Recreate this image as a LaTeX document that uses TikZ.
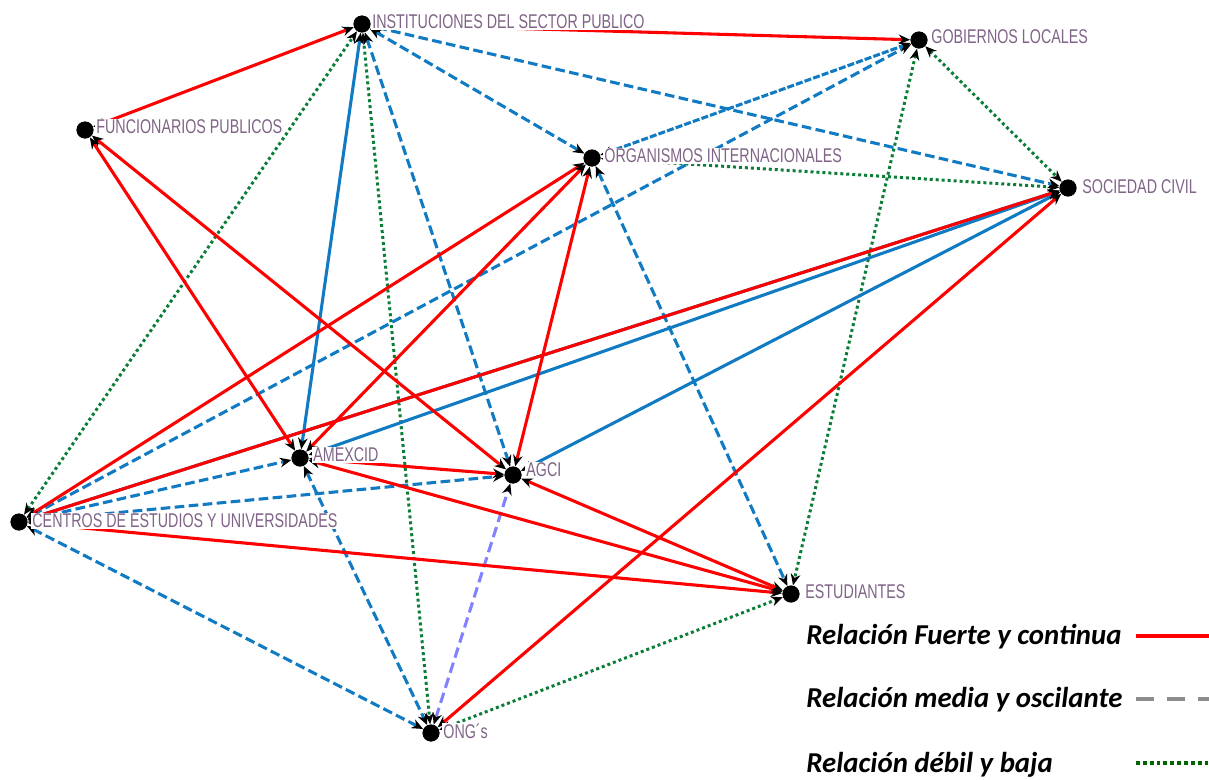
\documentclass[tikz,border=0pt]{standalone}
\usepackage{fontspec}
\usepackage{graphicx}
\setmainfont{Liberation Sans}
\newfontfamily\legfont{Carlito}
\usetikzlibrary{arrows.meta}
\definecolor{redc}{RGB}{255,0,0}
\definecolor{bluec}{RGB}{16,122,194}
\definecolor{greenc}{RGB}{10,125,55}
\definecolor{lavc}{RGB}{130,130,255}
\definecolor{lblc}{RGB}{128,100,135}
\definecolor{grayc}{RGB}{140,140,140}
\definecolor{dgreen}{RGB}{0,100,0}
\tikzset{
  dot/.style={circle,fill=black,minimum size=0.34cm,inner sep=0pt},
  tips/.style={arrows={{Stealth[length=6.5pt,width=5.5pt,color=black]}-{Stealth[length=6.5pt,width=5.5pt,color=black]}}},
  strong/.style={tips,draw=redc,line width=1.75pt},
  midd/.style={tips,draw=bluec,line width=1.75pt,dash pattern=on 5.5pt off 2.5pt},
  middense/.style={tips,draw=bluec,line width=1.75pt,dash pattern=on 4pt off 1.2pt},
  bluesolid/.style={tips,draw=bluec,line width=1.75pt},
  weak/.style={tips,draw=greenc,line width=1.7pt,dash pattern=on 1.7pt off 1.7pt},
  lav/.style={tips,draw=lavc,line width=1.75pt,dash pattern=on 6pt off 3pt},
  lbl/.style={anchor=west,fill=white,inner sep=0.6pt,text=lblc,font=\fontsize{11.3}{13}\selectfont},
  leg/.style={anchor=base west,inner sep=0pt,font=\legfont\bfseries\itshape\fontsize{16.4}{19}\selectfont}
}
\newcommand{\nx}[1]{\scalebox{0.72}[1]{#1}}
\begin{document}
\begin{tikzpicture}[x=0.02cm,y=-0.02cm]
\useasboundingbox (0,0) rectangle (1209,779);
% dots
\node[dot] (INST) at (362,24) {};
\node[dot] (GOB) at (919,40) {};
\node[dot] (FUNC) at (85,130) {};
\node[dot] (ORG) at (592,158) {};
\node[dot] (SOC) at (1068,188) {};
\node[dot] (AMEX) at (300,458) {};
\node[dot] (AGCI) at (513,475) {};
\node[dot] (CENT) at (19,522) {};
\node[dot] (EST) at (791,594) {};
\node[dot] (ONG) at (431,733) {};
% green dotted
\draw[weak] (CENT) -- (INST);
\draw[weak] (INST) -- (ONG);
\draw[weak] (GOB) -- (SOC);
\draw[weak] (GOB) -- (EST);
\draw[weak] (ORG) -- (SOC);
\draw[weak] (ONG) -- (EST);
% blue
\draw[midd] (INST) -- (ORG);
\draw[midd] (INST) -- (SOC);
\draw[midd] (INST) -- (AGCI);
\draw[midd] (CENT) -- (GOB);
\draw[midd] (CENT) -- (AMEX);
\draw[midd] (CENT) -- (AGCI);
\draw[midd] (CENT) -- (ONG);
\draw[midd] (AMEX) -- (ONG);
\draw[midd] (ORG) -- (EST);
\draw[middense] (ORG) -- (GOB);
\draw[bluesolid] (AMEX) -- (INST);
\draw[bluesolid] (AMEX) -- (SOC);
\draw[bluesolid] (AGCI) -- (SOC);
\draw[bluesolid] (CENT) -- (SOC);
% lavender
\draw[lav] (ONG) -- (AGCI);
% red
\draw[strong] (FUNC) -- (INST);
\draw[strong] (INST) -- (GOB);
\draw[strong] (FUNC) -- (AMEX);
\draw[strong] (FUNC) -- (AGCI);
\draw[strong] (CENT) -- (ORG);
\draw[strong] (CENT) -- (SOC);
\draw[strong] (CENT) -- (EST);
\draw[strong] (AMEX) -- (ORG);
\draw[strong] (AMEX) -- (AGCI);
\draw[strong] (AMEX) -- (EST);
\draw[strong] (AGCI) -- (ORG);
\draw[strong] (AGCI) -- (EST);
\draw[strong] (ONG) -- (SOC);
% labels
\node[lbl] (tINST) at (371,22) {\nx{INSTITUCIONES DEL SECTOR PUBLICO}};
\node[lbl] (tGOB) at (930,37) {\nx{GOBIERNOS LOCALES}};
\node[lbl] (tFUNC) at (95,127) {\nx{FUNCIONARIOS PUBLICOS}};
\node[lbl] (tORG) at (603,156) {\nx{ORGANISMOS INTERNACIONALES}};
\node[lbl] (tSOC) at (1081,187) {\nx{SOCIEDAD CIVIL}};
\node[lbl] (tAMEX) at (312,455) {\nx{AMEXCID}};
\node[lbl] (tAGCI) at (525,470) {\nx{AGCI}};
\node[lbl] (tCENT) at (31,521) {\nx{CENTROS DE ESTUDIOS Y UNIVERSIDADES}};
\node[lbl] (tEST) at (804,592) {\nx{ESTUDIANTES}};
\node[lbl] (tONG) at (442,731) {\nx{ONG´s}};
% redraw dots on top
\foreach \n in {INST,GOB,FUNC,ORG,SOC,AMEX,AGCI,CENT,EST,ONG}{\fill[black] (\n) circle (4.8pt);}
% legend
\node[leg] (l1) at (806,644) {Relación Fuerte y continua};
\node[leg] (l2) at (806,707) {Relación media y oscilante};
\node[leg] (l3) at (806,772) {Relación débil y baja};
\draw[redc,line width=2.4pt] (1136,636) -- (1209,636);
\draw[grayc,line width=2.6pt,dash pattern=on 10.5pt off 7pt] (1136,699) -- (1209,699);
\draw[dgreen,line width=2.4pt,dash pattern=on 2.2pt off 1.7pt] (1136,763) -- (1209,763);
\end{tikzpicture}
\end{document}
